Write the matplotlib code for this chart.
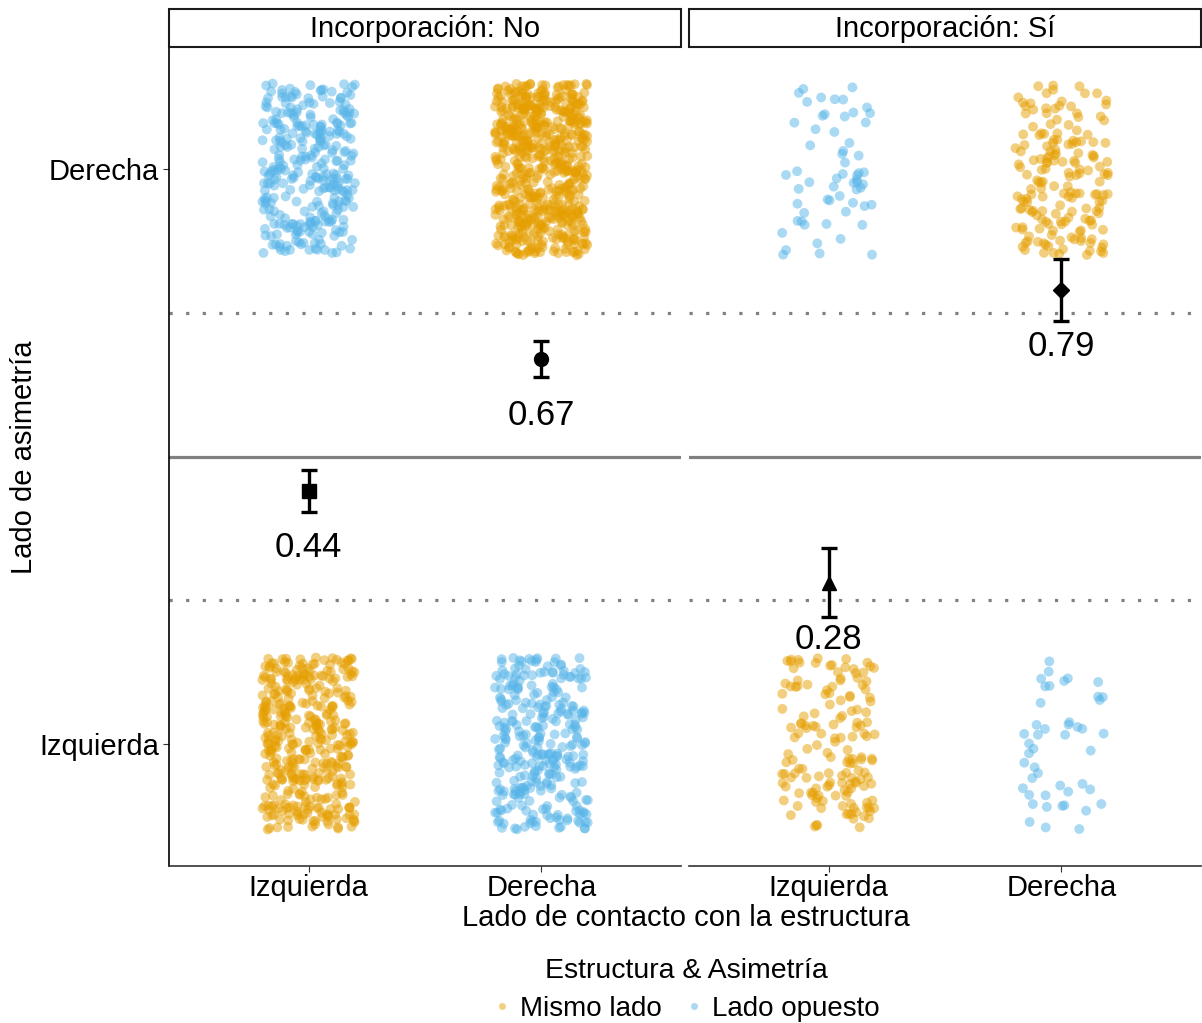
import numpy as np
import matplotlib
matplotlib.use("Agg")
import matplotlib.pyplot as plt
from matplotlib.lines import Line2D
from matplotlib.patches import Rectangle

plt.rcParams['font.family'] = ['Liberation Sans', 'DejaVu Sans']

# ---------------- data ----------------
panels = ["No", "Sí"]
contact_sides = ["Izquierda", "Derecha"]
asym_labels = ["Izquierda", "Derecha"]
# number of observations with asymmetry on the right (y=1) / left (y=0)
n_right = [[304, 608], [60, 172]]
n_left = [[386, 299], [154, 46]]
means = [[0.44, 0.67], [0.28, 0.79]]
ci_half = [[0.037, 0.031], [0.060, 0.054]]
mean_markers = [["s", "o"], ["^", "D"]]
legend_labels = ["Mismo lado", "Lado opuesto"]

c_same = "#E69F00"
c_opp = "#56B4E9"

W, H = 1202, 1023
fig = plt.figure(figsize=(W / 100, H / 100), dpi=100)

rng = np.random.default_rng(7)  # display jitter only

FS = 21
panel_px = [(169, 681), (689, 1201)]
top_px, bot_px = 47, 866
axes = []
for p, (x0, x1) in enumerate(panel_px):
    ax = fig.add_axes([x0 / W, 1 - bot_px / H, (x1 - x0) / W, (bot_px - top_px) / H])
    axes.append(ax)
    ax.set_xlim(0.4, 2.6)
    ax.set_ylim(-0.2134, 1.2134)
    # reference lines
    ax.axhline(0.5, color="#808080", lw=2.3, zorder=1)
    for yv in (0.25, 0.75):
        ax.axhline(yv, color="#808080", lw=2.3, ls=(0, (1, 4.2)), zorder=1)
    for c in range(2):
        xc = c + 1
        # same side = asymmetry side equals contact side
        for yv, n in ((1, n_right[p][c]), (0, n_left[p][c])):
            same = (yv == c)
            col = c_same if same else c_opp
            xs = xc + rng.uniform(-0.2, 0.2, n)
            ys = yv + rng.uniform(-0.15, 0.15, n)
            ax.scatter(xs, ys, s=50, color=col, alpha=0.5, edgecolors="none", zorder=2)
        m = means[p][c]
        e = ci_half[p][c]
        ax.errorbar([xc], [m], yerr=[e], fmt=mean_markers[p][c], color="black",
                    ms=10 if mean_markers[p][c] != "D" else 8, elinewidth=2.4,
                    capsize=5.5, capthick=2.4, zorder=4)
        ax.text(xc, m - 0.098, f"{m:.2f}", ha="center", va="center", fontsize=25,
                color="black", zorder=5)
    ax.set_xticks([1, 2])
    ax.set_xticklabels(contact_sides, fontsize=FS)
    ax.tick_params(axis="x", length=4, color="#333333", pad=2)
    for s in ("top", "right"):
        ax.spines[s].set_visible(False)
    ax.spines["bottom"].set_color("#333333")
    ax.spines["bottom"].set_linewidth(1.2)
    if p == 0:
        ax.set_yticks([0, 1])
        ax.set_yticklabels(asym_labels, fontsize=FS)
        ax.tick_params(axis="y", length=4, color="#333333", pad=3)
        ax.spines["left"].set_color("black")
        ax.spines["left"].set_linewidth(1.2)
    else:
        ax.set_yticks([])
        ax.spines["left"].set_visible(False)
    # strip
    fig.patches.append(Rectangle((x0 / W, 1 - 47 / H), (x1 - x0) / W, 38 / H,
                                 transform=fig.transFigure, facecolor="white",
                                 edgecolor="#1a1a1a", lw=1.5))
    fig.text((x0 + x1) / 2 / W, 1 - 29 / H, f"Incorporación: {panels[p]}",
             ha="center", va="center", fontsize=FS)

fig.text(686 / W, 1 - 918 / H, "Lado de contacto con la estructura", ha="center",
         va="center", fontsize=FS)
fig.text(24 / W, 1 - 457 / H, "Lado de asimetría", ha="center", va="center",
         rotation=90, fontsize=FS)

handles = [Line2D([], [], ls="none", marker="o", ms=5, color=c_same, alpha=0.5,
                  markeredgewidth=0),
           Line2D([], [], ls="none", marker="o", ms=5, color=c_opp, alpha=0.5,
                  markeredgewidth=0)]
leg = fig.legend(handles, legend_labels, title="Estructura & Asimetría", ncol=2,
                 loc="center", bbox_to_anchor=(686 / W, 1 - 990 / H), frameon=False,
                 fontsize=20, title_fontsize=20.5, handlelength=0.7,
                 handletextpad=0.3, columnspacing=0.8, borderpad=0, labelspacing=0.2)
leg._legend_box.sep = 8

fig.savefig("out.png", dpi=100)
